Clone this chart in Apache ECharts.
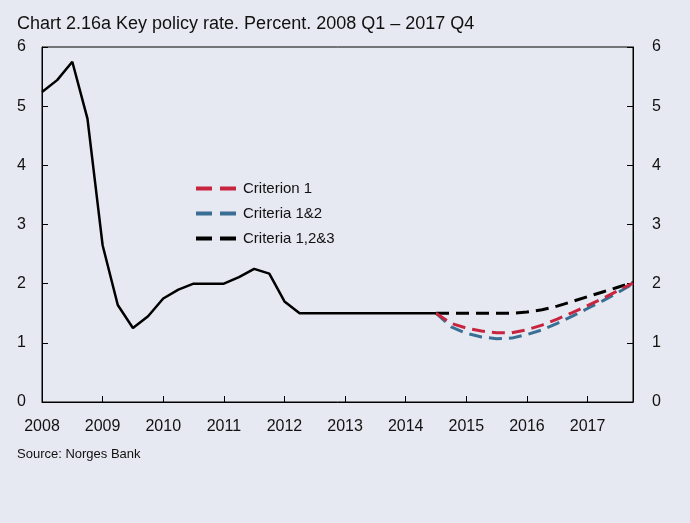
<!DOCTYPE html>
<html><head><meta charset="utf-8">
<script src="https://cdn.jsdelivr.net/npm/echarts@6/dist/echarts.min.js"></script>
<style>html,body{margin:0;padding:0;background:#e6e9f1;}#c{width:690px;height:523px;}</style>
</head><body><div id="c"></div>
<script>
const years = ['2008','2009','2010','2011','2012','2013','2014','2015','2016','2017'];
const quarters = [];
years.forEach(y => { for (let q = 1; q <= 4; q++) quarters.push(y + ' Q' + q); });

const history = [5.24, 5.44, 5.75, 4.79,
  2.65, 1.64, 1.25, 1.45,
  1.75, 1.90, 2.00, 2.00,
  2.00, 2.11, 2.25, 2.17,
  1.70, 1.50, 1.50, 1.50,
  1.50, 1.50, 1.50, 1.50,
  1.50, 1.50, 1.50];
// forecasts from 2014 Q3 to 2017 Q4
const criterion1 = [1.50, 1.33, 1.25, 1.20, 1.17, 1.17, 1.22, 1.30, 1.40, 1.51, 1.63, 1.75, 1.88, 2.01];
const criteria12 = [1.50, 1.27, 1.16, 1.10, 1.07, 1.08, 1.14, 1.22, 1.33, 1.45, 1.58, 1.71, 1.85, 2.00];
const criteria123 = [1.50, 1.50, 1.50, 1.50, 1.50, 1.50, 1.52, 1.56, 1.62, 1.70, 1.78, 1.86, 1.94, 2.02];
const yTicks = [0, 1, 2, 3, 4, 5, 6];

const fcStart = history.length - 1;
function pad(arr) { const out = new Array(fcStart).fill(null); return out.concat(arr); }

const font = 'Liberation Sans, Arial, sans-serif';
const dashIcon = 'path://M0,0h16v4h-16z M24,0h16v4h-16z';

const chart = echarts.init(document.getElementById('c'));
const yAxisBase = {
  type: 'value', min: yTicks[0], max: yTicks[yTicks.length - 1], interval: 1,
  splitLine: { show: false },
  axisLine: { show: true, lineStyle: { color: '#000', width: 1 } },
  axisTick: { show: true, inside: true, length: 6, lineStyle: { color: '#000' } },
  axisLabel: { color: '#111', fontSize: 16, fontFamily: font }
};
chart.setOption({
  backgroundColor: '#e6e9f1',
  animation: false,
  title: [
    { text: 'Chart 2.16a Key policy rate. Percent. 2008 Q1 – 2017 Q4', left: 12, top: 10,
      textStyle: { fontSize: 18, fontWeight: 'normal', color: '#111', fontFamily: font } },
    { text: 'Source: Norges Bank', left: 12, top: 443,
      textStyle: { fontSize: 13, fontWeight: 'normal', color: '#111', fontFamily: font } }
  ],
  grid: { left: 42, right: 57, top: 47, bottom: 121, show: true, borderColor: '#000', borderWidth: 1, backgroundColor: 'transparent' },
  legend: {
    orient: 'vertical', left: 191, top: 176, itemWidth: 42, itemHeight: 4, itemGap: 10,
    textStyle: { fontSize: 15, color: '#111', fontFamily: font, lineHeight: 15, padding: [0, 0, 0, 1] },
    data: [
      { name: 'Criterion 1', icon: dashIcon, itemStyle: { color: '#c8243f' } },
      { name: 'Criteria 1&2', icon: dashIcon, itemStyle: { color: '#3a6f94' } },
      { name: 'Criteria 1,2&3', icon: dashIcon, itemStyle: { color: '#000' } }
    ]
  },
  xAxis: {
    type: 'category', data: quarters, boundaryGap: false,
    axisLine: { show: true, lineStyle: { color: '#000' } },
    axisTick: { show: true, inside: true, length: 6, lineStyle: { color: '#000' },
      interval: (i) => i % 4 === 0 && i > 0 },
    axisLabel: { color: '#111', fontSize: 16, fontFamily: font, margin: 17,
      interval: (i) => i % 4 === 0, formatter: (v) => v.slice(0, 4) },
    splitLine: { show: false }
  },
  yAxis: [
    Object.assign({}, yAxisBase, { position: 'left', axisLabel: Object.assign({}, yAxisBase.axisLabel, { margin: 16 }) }),
    Object.assign({}, yAxisBase, { position: 'right', axisLabel: Object.assign({}, yAxisBase.axisLabel, { margin: 19 }) })
  ],
  series: [
    { name: 'Criteria 1,2&3', type: 'line', data: pad(criteria123), symbol: 'none', z: 3,
      lineStyle: { color: '#000', width: 3, type: [13, 7] }, itemStyle: { color: '#000' } },
    { name: 'Criteria 1&2', type: 'line', data: pad(criteria12), symbol: 'none', z: 4,
      lineStyle: { color: '#3a6f94', width: 3, type: [13, 7] }, itemStyle: { color: '#3a6f94' } },
    { name: 'Criterion 1', type: 'line', data: pad(criterion1), symbol: 'none', z: 5,
      lineStyle: { color: '#c8243f', width: 3, type: [13, 7] }, itemStyle: { color: '#c8243f' } },
    { name: 'Key policy rate', type: 'line', data: history, symbol: 'none', z: 6,
      lineStyle: { color: '#000', width: 2.5 }, itemStyle: { color: '#000' } }
  ]
});
</script></body></html>
